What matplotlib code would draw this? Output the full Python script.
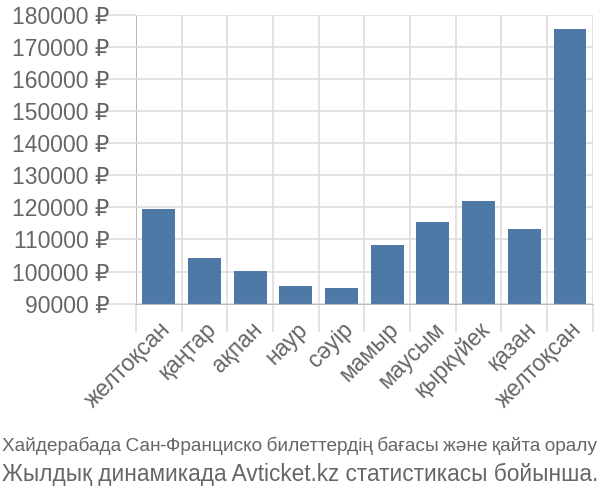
import matplotlib
matplotlib.use("Agg")
import matplotlib.pyplot as plt
from matplotlib import font_manager as fm
import numpy as np

months = ["желтоқсан", "қаңтар", "ақпан", "наур", "сәуір", "мамыр",
          "маусым", "қыркүйек", "қазан", "желтоқсан"]
prices = [119400, 104150, 100300, 95600, 95000, 108200, 115350, 121900, 113400, 175500]
yticks = [90000, 100000, 110000, 120000, 130000, 140000, 150000, 160000, 170000, 180000]
title1 = "Хайдерабада Сан-Франциско билеттердің бағасы және қайта оралу"
title2 = "Жылдық динамикада Avticket.kz статистикасы бойынша."

names = sorted({f.name for f in fm.fontManager.ttflist})
cond = [n for n in names if "Condensed" in n or "Narrow" in n]
base = ["Liberation Sans", "DejaVu Sans"]
narrow = ([cond[0]] + base) if cond else base
plt.rcParams['font.family'] = base

text_col = "#666666"
grid_col = "#dddddd"
bar_col = "#4e79a7"

fig = plt.figure(figsize=(6, 5), dpi=100)
ax = fig.add_axes([0.2267, 0.3926, 0.988 - 0.2267, 0.9706 - 0.3926])

x = np.arange(len(months))
ax.bar(x, [p - yticks[0] for p in prices], bottom=yticks[0], width=0.72,
       color=bar_col, zorder=3)

ax.set_xlim(-0.5, len(months) - 0.5)
ax.set_ylim(yticks[0], yticks[-1])

for s in ["top", "right", "left"]:
    ax.spines[s].set_visible(False)
ax.spines["bottom"].set_color("#bbbbbb")
ax.spines["bottom"].set_zorder(4)

ax.set_yticks(yticks)
ax.set_yticklabels([f"{v} ₽" for v in yticks], fontsize=16.5, color=text_col)
ax.tick_params(axis="y", length=20, width=1.2, color=grid_col, pad=-1)
ax.yaxis.grid(True, color=grid_col, lw=1.2, zorder=0)

bounds = np.arange(len(months) + 1) - 0.5
ax.set_xticks(bounds)
ax.set_xticklabels([])
ax.tick_params(axis="x", length=20, width=1.2, color=grid_col)
ax.xaxis.grid(True, color=grid_col, lw=1.2, zorder=0)
t0 = ax.xaxis.get_major_ticks()[0]
t0.tick1line.set_color("#aaaaaa")
t0.gridline.set_color("#aaaaaa")

ax.set_xticks(x, minor=True)
ax.set_xticklabels(months, minor=True, rotation=45, ha="right", va="top",
                   rotation_mode="anchor", fontsize=16.5, color=text_col)
ax.tick_params(axis="x", which="minor", length=0, pad=10)

t1 = fig.text(0.5, 1 - 446 / 500, title1, ha="center", va="center", fontsize=16.5,
              color=text_col, family=narrow)
t2 = fig.text(0.5, 1 - 474 / 500, title2, ha="center", va="center", fontsize=16.5,
              color=text_col)

fig.canvas.draw()
r = fig.canvas.get_renderer()
for t in (t1, t2):
    w = t.get_window_extent(r).width
    if w > 596:
        t.set_fontsize(t.get_fontsize() * 596 / w)

fig.savefig("out.png", dpi=100)
